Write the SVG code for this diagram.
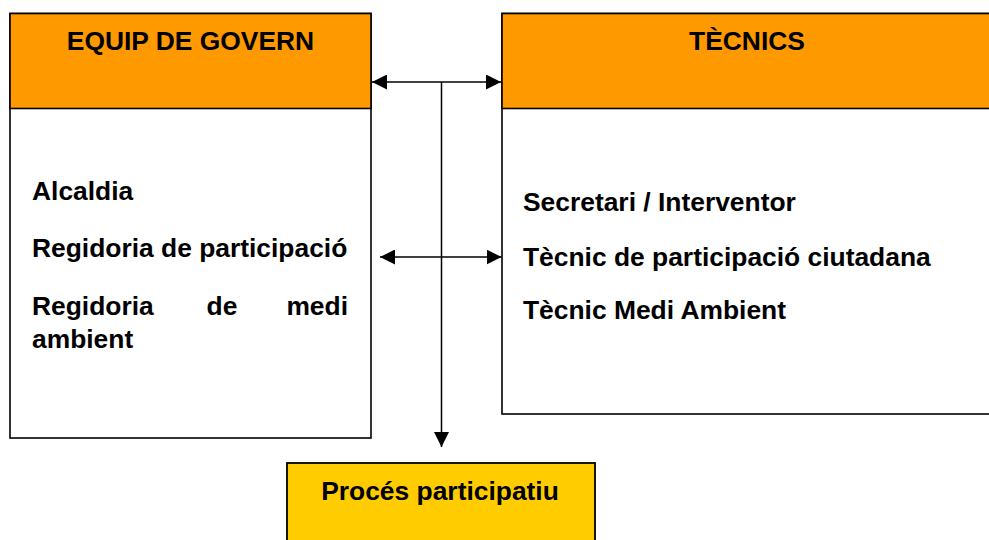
<svg xmlns="http://www.w3.org/2000/svg" width="989" height="540" viewBox="0 0 989 540">
<defs>
<style>
text{font-family:"Liberation Sans",Arial,sans-serif;font-weight:bold;font-size:26.4px;fill:#000}
.box{fill:#fff;stroke:#000;stroke-width:1.6}
.hdr{fill:#FF9900;stroke:#000;stroke-width:1.6}
.proc{fill:#FFCC00;stroke:#000;stroke-width:1.8}
.conn{stroke:#000;stroke-width:1.5;fill:none}
.c{text-anchor:middle}
</style>
<marker id="ah" viewBox="0 0 15 15" refX="15" refY="7.5" markerWidth="15" markerHeight="15" markerUnits="userSpaceOnUse" orient="auto-start-reverse">
<path d="M0,0 L15,7.5 L0,15 Z" fill="#000"/>
</marker>
</defs>
<g id="equip-de-govern">
<rect class="box" x="10" y="13.5" width="361" height="424.5"/>
<rect class="hdr" x="10" y="13.5" width="361" height="95"/>
<text class="c" x="190.5" y="50">EQUIP DE GOVERN</text>
<text x="32" y="200">Alcaldia</text>
<text x="32" y="257">Regidoria de participació</text>
<text x="32" y="315">Regidoria</text>
<text class="c" x="222" y="315">de</text>
<text x="348" y="315" text-anchor="end">medi</text>
<text x="32" y="348">ambient</text>
</g>
<g id="tecnics">
<rect class="box" x="502" y="13.5" width="492" height="400.5"/>
<rect class="hdr" x="502" y="13.5" width="492" height="95"/>
<text class="c" x="747" y="50">TÈCNICS</text>
<text x="523" y="211">Secretari / Interventor</text>
<text x="523" y="266">Tècnic de participació ciutadana</text>
<text x="523" y="319">Tècnic Medi Ambient</text>
</g>
<g id="proces-participatiu">
<rect class="proc" x="287" y="463" width="308" height="90"/>
<text class="c" x="440" y="500">Procés participatiu</text>
</g>
<g id="connectors">
<line class="conn" x1="372" y1="82" x2="501" y2="82" marker-start="url(#ah)" marker-end="url(#ah)"/>
<line class="conn" x1="380" y1="257" x2="501.5" y2="257" marker-start="url(#ah)" marker-end="url(#ah)"/>
<line class="conn" x1="441.5" y1="82" x2="441.5" y2="447" marker-end="url(#ah)"/>
</g>
</svg>
